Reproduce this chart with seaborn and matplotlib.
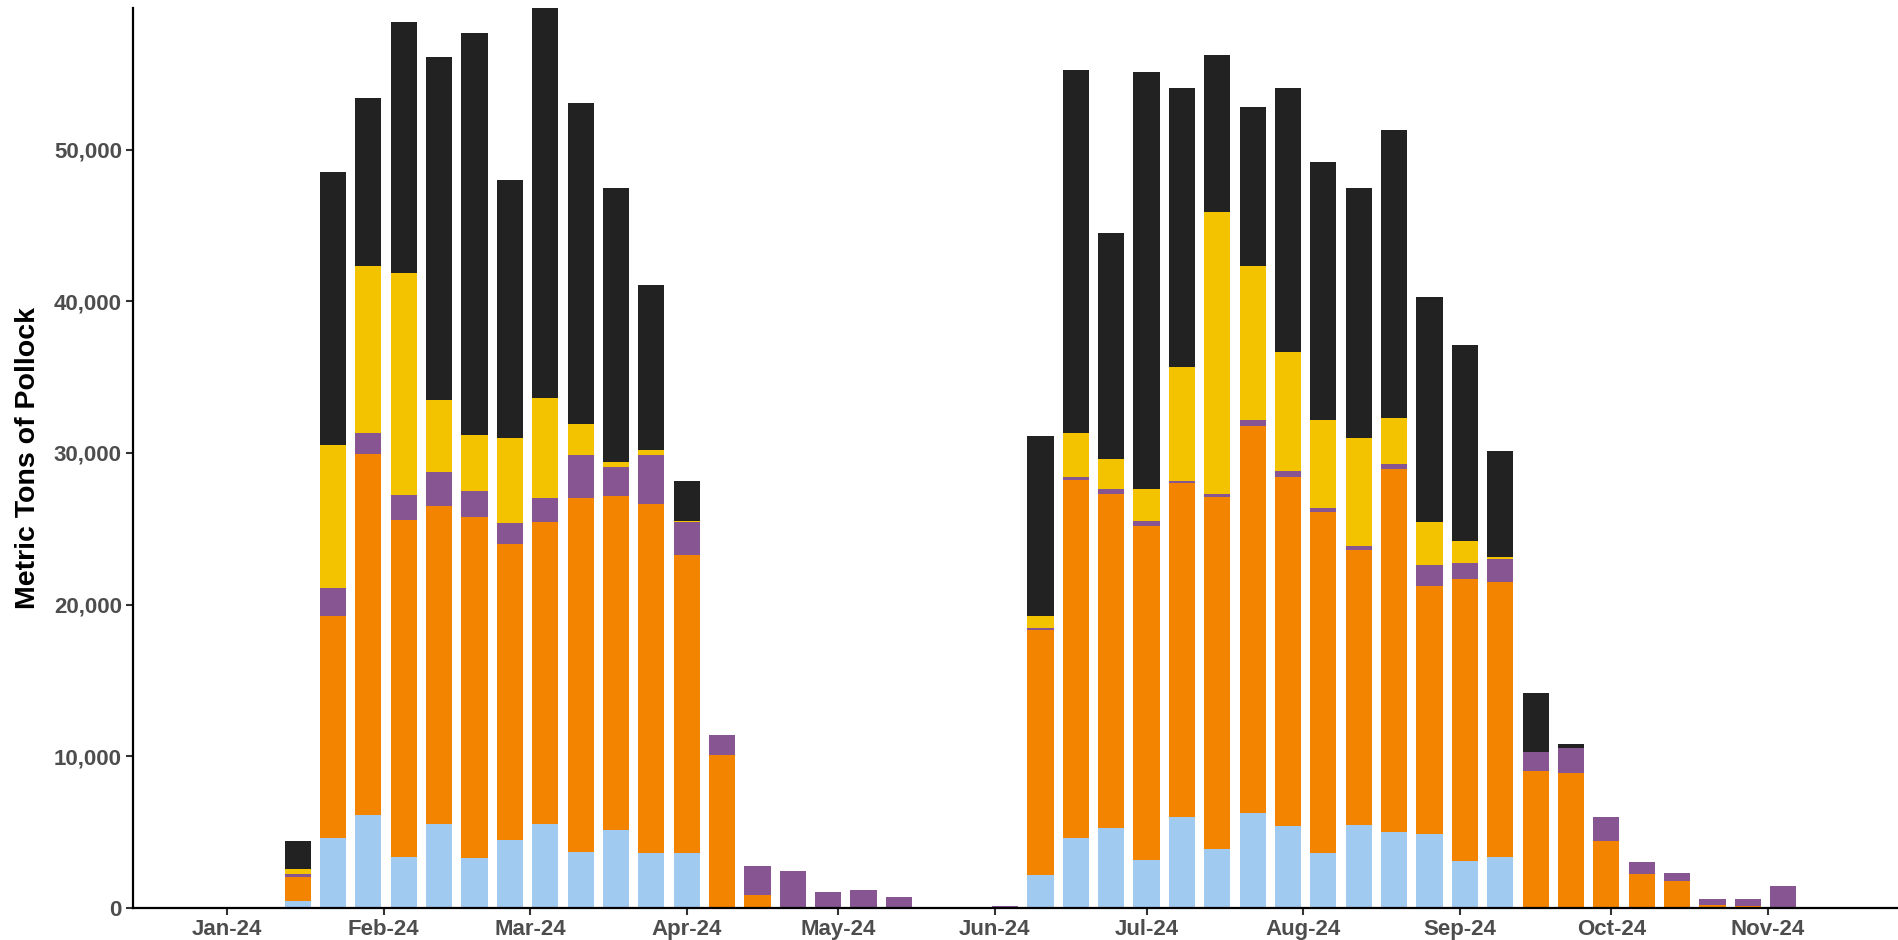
import matplotlib
matplotlib.use('Agg')
import matplotlib.pyplot as plt
import matplotlib.dates as mdates
from matplotlib.ticker import FuncFormatter
import numpy as np
import pandas as pd
import seaborn as sns

# weekly catch, metric tons, one value per week starting 2024-01-15
week_start = '2024-01-15'
n_weeks = 44

blue = [440, 4600, 6100, 3350, 5500, 3300, 4470, 5520, 3670, 5130, 3600, 3600,
        0, 0, 0, 0, 0, 0, 0, 0, 0,
        2160, 4600, 5260, 3150, 5980, 3870, 6250, 5390, 3600, 5460, 5000, 4860, 3080, 3340,
        0, 0, 0, 0, 0, 0, 0, 0, 0]
orange = [1580, 14650, 23800, 22250, 21000, 22500, 19530, 19940, 23370, 22040, 23040, 19680,
          10080, 840, 0, 0, 0, 0, 0, 0, 0,
          16170, 23630, 22040, 22040, 22050, 23230, 25510, 23040, 22500, 18140, 23920, 16370, 18620, 18160,
          9020, 8890, 4400, 2220, 1760, 180, 110, 0, 0]
purple = [200, 1850, 1400, 1600, 2250, 1700, 1400, 1580, 2810, 1930, 3210, 2180,
          1320, 1910, 2420, 1030, 1170, 700, 0, 0, 100,
          130, 200, 330, 330, 130, 200, 400, 390, 280, 270, 330, 1370, 1050, 1500,
          1250, 1650, 1580, 790, 530, 390, 460, 1430, 0]
yellow = [330, 9400, 11000, 14700, 4750, 3700, 5600, 6560, 2050, 300, 350, 60,
          0, 0, 0, 0, 0, 0, 0, 0, 0,
          790, 2870, 1950, 2110, 7490, 18600, 10140, 7820, 5820, 7100, 3050, 2860, 1450, 150,
          0, 0, 0, 0, 0, 0, 0, 0, 0]
black = [1850, 18000, 11100, 16500, 22600, 26500, 17000, 25750, 21200, 18100, 10870, 2640,
         0, 0, 0, 0, 0, 0, 0, 40, 0,
         11850, 23960, 14920, 27520, 18420, 10350, 10500, 17460, 17000, 16530, 19000, 14810, 12900, 6950,
         3900, 260, 0, 0, 0, 0, 0, 0, 40]

layers = ['blue', 'orange', 'purple', 'yellow', 'black']
colors = {'blue': '#A1CAF1', 'orange': '#F38400', 'purple': '#875692',
          'yellow': '#F3C300', 'black': '#222222'}

weeks = pd.date_range(week_start, periods=n_weeks, freq='7D')
wide = pd.DataFrame({'blue': blue, 'orange': orange, 'purple': purple,
                     'yellow': yellow, 'black': black})
# cumulative tops so the bars can be layered tallest first
cum = wide[layers].cumsum(axis=1)
cum['x'] = mdates.date2num(weeks)
long = cum.melt(id_vars='x', var_name='layer', value_name='tons')

sns.set_style('ticks')
plt.rcParams['font.family'] = ['Liberation Sans', 'DejaVu Sans']

fig = plt.figure(figsize=(18.99, 9.40), dpi=100)
ax = fig.add_axes([133 / 1899, 32.3 / 940, 1766 / 1899, 899.7 / 940])

sns.barplot(data=long, x='x', y='tons', hue='layer', hue_order=layers[::-1],
            palette=colors, dodge=False, native_scale=True, width=0.74,
            saturation=1, errorbar=None, legend=False, linewidth=0, ax=ax)

ax.set_xlim(mdates.date2num(pd.Timestamp('2023-12-13 10:00')),
            mdates.date2num(pd.Timestamp('2024-11-26 22:00')))
ax.set_ylim(0, cum['black'].max())
ax.xaxis.set_major_locator(mdates.MonthLocator())
ax.xaxis.set_major_formatter(mdates.DateFormatter('%b-%y'))
ax.yaxis.set_major_locator(plt.MultipleLocator(10000))
ax.yaxis.set_major_formatter(FuncFormatter(lambda v, p: f'{v:,.0f}'))

ax.set_xlabel('')
ax.set_ylabel('Metric Tons of Pollock', fontsize=20.5, fontweight='bold',
              color='black', labelpad=9)

for lab in ax.get_xticklabels() + ax.get_yticklabels():
    lab.set_fontweight('bold')
    lab.set_fontsize(16)
    lab.set_color('#4D4D4D')
ax.tick_params(axis='both', length=5, width=1.5, color='#333333', pad=3)

sns.despine(ax=ax)
for side in ['left', 'bottom']:
    ax.spines[side].set_linewidth(1.6)
    ax.spines[side].set_color('black')

fig.savefig('out.png', dpi=100)
